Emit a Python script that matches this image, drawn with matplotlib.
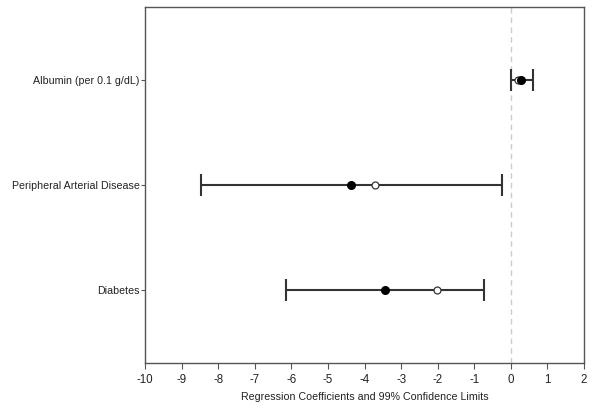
import matplotlib
matplotlib.use("Agg")
import matplotlib.pyplot as plt

categories = ["Albumin (per 0.1 g/dL)", "Peripheral Arterial Disease", "Diabetes"]
estimate = [0.29, -4.37, -3.43]
lower = [0.0, -8.48, -6.15]
upper = [0.61, -0.25, -0.73]
unadjusted = [0.20, -3.71, -2.01]
xticks = list(range(-10, 3))

plt.rcParams['font.family'] = ['Liberation Sans', 'DejaVu Sans']
fig = plt.figure(figsize=(6.01, 4.09), dpi=100)
ax = fig.add_axes([145/601, 1-363/409, (584-145)/601, (363-7)/409])

ypos = [3, 2, 1]
ax.axvline(0, color='#cccccc', linestyle=(0, (4, 3)), linewidth=1, zorder=0)
for y, e, lo, hi, u in zip(ypos, estimate, lower, upper, unadjusted):
    ax.errorbar([e], [y], xerr=[[e - lo], [hi - e]], fmt='none', ecolor='#333333',
                elinewidth=1.5, capsize=8, capthick=1.5, zorder=2)
ax.plot(estimate, ypos, 'o', color='black', markersize=5.5, zorder=4)
ax.plot(unadjusted, ypos, 'o', markerfacecolor='white', markeredgecolor='#333333',
        markersize=5, markeredgewidth=0.9, zorder=3)

ax.set_xlim(-10, 2)
ax.set_ylim(0.3, 3.7)
ax.set_xticks(xticks)
ax.set_xticklabels([str(t) for t in xticks])
ax.set_yticks(ypos)
ax.set_yticklabels(categories)
ax.tick_params(axis='x', direction='out', length=4, width=0.8, color='#555555',
               labelsize=8.3, labelcolor='#222222', pad=4)
ax.tick_params(axis='y', direction='out', length=3, width=0.8, color='#555555',
               labelsize=7.7, labelcolor='#222222', pad=1)
ax.set_xlabel("Regression Coefficients and 99% Confidence Limits", fontsize=7.7,
              color='#222222', labelpad=4)
for s in ax.spines.values():
    s.set_color('#555555')
    s.set_linewidth(1.0)

fig.savefig("out.png", dpi=100)
